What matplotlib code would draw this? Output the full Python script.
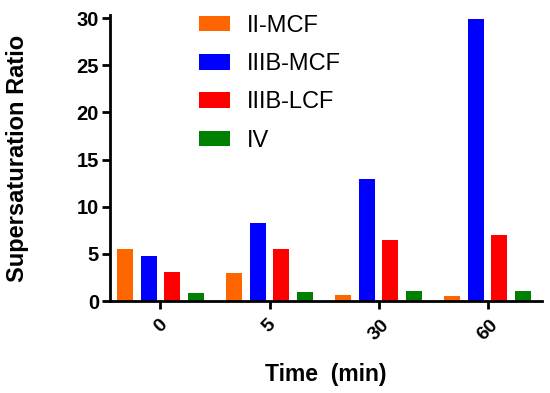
import numpy as np
import matplotlib
matplotlib.use("Agg")
import matplotlib.pyplot as plt

plt.rcParams['font.family'] = ['Liberation Sans', 'DejaVu Sans']

times = ['0', '5', '30', '60']
series = ['II-MCF', 'IIIB-MCF', 'IIIB-LCF', 'IV']
ii_mcf = [5.5, 3.0, 0.65, 0.55]
iiib_mcf = [4.75, 8.25, 12.95, 29.9]
iiib_lcf = [3.1, 5.5, 6.5, 7.05]
iv = [0.82, 0.95, 1.1, 1.03]
colors = ['#FF6600', '#0000FF', '#FF0000', '#008000']

fig = plt.figure(figsize=(5.5, 3.93), dpi=100)
ax = fig.add_axes([0.2, 0.234, 0.785, 0.7273])

x = np.arange(len(times))
pitch = 0.215
width = 0.145
for i, (vals, name) in enumerate(zip([ii_mcf, iiib_mcf, iiib_lcf, iv], series)):
    ax.bar(x + (i - 1.5) * pitch, vals, width, color=colors[i], label=name)

ax.set_xlim(-0.463, 3.497)
ax.set_ylim(0, 30.3)
ax.set_yticks(range(0, 31, 5))
ax.set_xticks(x)
ax.set_xticklabels(times, rotation=45, ha='center', fontsize=14, fontweight='bold')
for lab in ax.get_yticklabels():
    lab.set_fontsize(14.5)
    lab.set_fontweight('bold')

for s in ['top', 'right']:
    ax.spines[s].set_visible(False)
for s in ['left', 'bottom']:
    ax.spines[s].set_linewidth(2)
ax.tick_params(width=2, length=6)
ax.tick_params(axis='y', pad=2)
ax.tick_params(axis='x', pad=5)

ax.set_ylabel('Supersaturation Ratio', fontsize=17, fontweight='bold', labelpad=34)
ax.set_xlabel('Time  (min)', fontsize=16.5, fontweight='bold', labelpad=14)

ax.legend(loc='upper left', bbox_to_anchor=(0.158, 1.076), frameon=False,
          fontsize=17, handlelength=1.31, handleheight=0.64, labelspacing=0.69,
          handletextpad=0.71)

fig.savefig('out.png', dpi=100)
